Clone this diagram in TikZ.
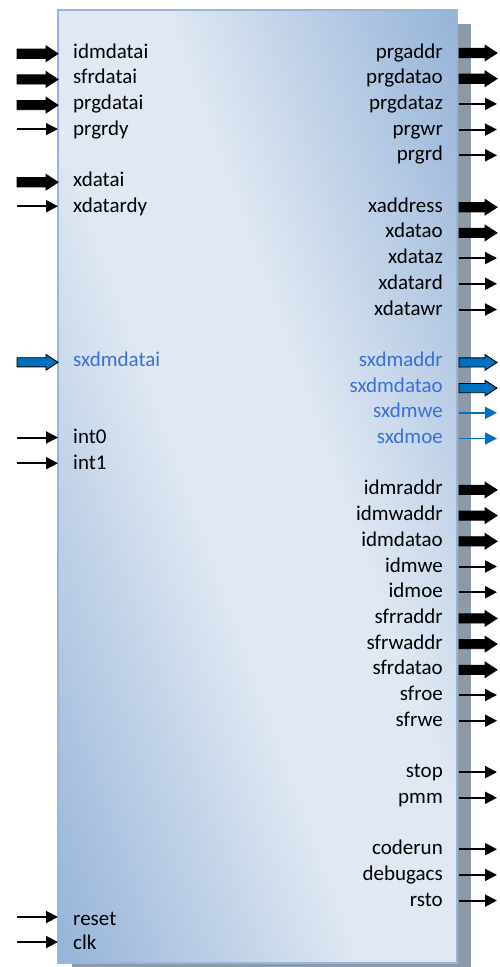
\documentclass[tikz,border=0pt]{standalone}
\usepackage{fontspec}
\setmainfont{Carlito}
\usetikzlibrary{arrows.meta,calc}
\definecolor{boxdark}{HTML}{93B1D7}
\definecolor{boxlight}{HTML}{DFE8F3}
\definecolor{boxborder}{HTML}{9AB5DC}
\definecolor{shadowgray}{HTML}{8D9AA8}
\definecolor{sigblue}{HTML}{0070C0}
\definecolor{txtblue}{HTML}{3A6FD8}
\pgfdeclarehorizontalshading{boxshade}{100bp}{color(0bp)=(boxdark); color(17bp)=(boxdark); color(44bp)=(boxlight); color(57bp)=(boxlight); color(83bp)=(boxdark); color(100bp)=(boxdark)}
\tikzset{
  lbl/.style={font=\fontsize{21}{25}\selectfont, inner sep=0pt, text=black},
  bluelbl/.style={lbl, text=txtblue},
  sigarrow/.style={line width=2pt, draw=black, -{Triangle[length=12pt,width=12pt]}},
  bluesigarrow/.style={sigarrow, draw=sigblue, fill=sigblue},
  busarrow/.style={draw=black, line width=0.9pt, line join=miter},
}
\newcommand\busarrow[3]{%
  \filldraw[busarrow, fill=#3]
    ($(#1)+(0,-4.6)$) -- ($(#2)+(-12,-4.6)$) -- ($(#2)+(-12,-7.8)$) -- (#2)
    -- ($(#2)+(-12,7.8)$) -- ($(#2)+(-12,4.6)$) -- ($(#1)+(0,4.6)$) -- cycle;}
\begin{document}
\begin{tikzpicture}[x=1pt,y=-1pt]
\useasboundingbox (0,0) rectangle (499,967);
% shadow
\fill[shadowgray] (72,24) rectangle (471,967);
% main block
\node[draw=boxborder, line width=1.5pt, shading=boxshade, shading angle=20,
      minimum width=399pt, minimum height=953pt, inner sep=0pt, outer sep=0pt,
      anchor=north west] (box) at (58,10) {};

% ---------- left side ----------
\foreach \nm/\b in {idmdatai/58, sfrdatai/83.7, prgdatai/109.4, xdatai/186.5}{
  \node[lbl, anchor=base west] (L-\nm) at (73,\b) {\nm};
  \coordinate (LS-\nm) at (17,{\b-4.3});
  \coordinate (LE-\nm) at (58,{\b-4.3});
  \busarrow{LS-\nm}{LE-\nm}{black}
}
\foreach \nm/\b in {prgrdy/135.1, xdatardy/212.2, int0/443.5, int1/469.2}{
  \node[lbl, anchor=base west] (L-\nm) at (73,\b) {\nm};
  \coordinate (LS-\nm) at (17,{\b-6});
  \coordinate (LE-\nm) at (58,{\b-6});
  \draw[sigarrow] (LS-\nm) -- (LE-\nm);
}
\node[bluelbl, anchor=base west] (L-sxdmdatai) at (73,366.4) {sxdmdatai};
\coordinate (LS-sxdmdatai) at (17,362.3);
\coordinate (LE-sxdmdatai) at (58,362.3);
\busarrow{LS-sxdmdatai}{LE-sxdmdatai}{sigblue}

\node[lbl, anchor=base west] (L-reset) at (73,925.5) {reset};
\coordinate (LS-reset) at (17,917);
\coordinate (LE-reset) at (58,917);
\draw[sigarrow] (LS-reset) -- (LE-reset);
\node[lbl, anchor=base west] (L-clk) at (73,949) {clk};
\coordinate (LS-clk) at (17,942);
\coordinate (LE-clk) at (58,942);
\draw[sigarrow] (LS-clk) -- (LE-clk);

% ---------- right side ----------
\foreach \nm/\b in {prgaddr/58, prgdatao/83.7, xaddress/212.2, xdatao/237.9,
    idmraddr/494.9, idmwaddr/520.6, idmdatao/546.3,
    sfrraddr/623.4, sfrwaddr/649.1, sfrdatao/674.8}{
  \node[lbl, anchor=base east] (R-\nm) at (443,\b) {\nm};
  \coordinate (RS-\nm) at (459,{\b-5});
  \coordinate (RE-\nm) at (497,{\b-5});
  \busarrow{RS-\nm}{RE-\nm}{black}
}
\foreach \nm/\b in {prgdataz/109.4, prgwr/135.1, prgrd/160.8,
    xdataz/263.6, xdatard/289.3, xdatawr/315,
    idmwe/572, idmoe/597.7, sfroe/700.5, sfrwe/726.2,
    stop/777.6, pmm/803.3, coderun/854.7, debugacs/880.4, rsto/906.1}{
  \node[lbl, anchor=base east] (R-\nm) at (443,\b) {\nm};
  \coordinate (RS-\nm) at (459,{\b-5.5});
  \coordinate (RE-\nm) at (497,{\b-5.5});
  \draw[sigarrow] (RS-\nm) -- (RE-\nm);
}
\foreach \nm/\b in {sxdmaddr/366.4, sxdmdatao/392.1}{
  \node[bluelbl, anchor=base east] (R-\nm) at (443,\b) {\nm};
  \coordinate (RS-\nm) at (459,{\b-4});
  \coordinate (RE-\nm) at (497,{\b-4});
  \busarrow{RS-\nm}{RE-\nm}{sigblue}
}
\foreach \nm/\b in {sxdmwe/417.8, sxdmoe/443.5}{
  \node[bluelbl, anchor=base east] (R-\nm) at (443,\b) {\nm};
  \coordinate (RS-\nm) at (459,{\b-5});
  \coordinate (RE-\nm) at (497,{\b-5});
  \draw[bluesigarrow, line width=1.6pt] (RS-\nm) -- (RE-\nm);
}
\end{tikzpicture}
\end{document}
